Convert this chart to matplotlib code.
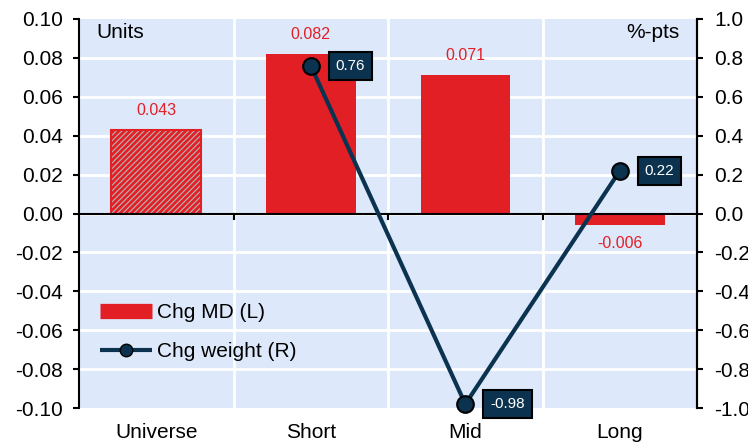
from matplotlib import pyplot as plt
from matplotlib.lines import Line2D
import numpy as np

plt.rcParams['font.family'] = ['Liberation Sans', 'DejaVu Sans']
plt.rcParams['hatch.linewidth'] = 2.0

categories = ["Universe", "Short", "Mid", "Long"]
chg_md = [0.043, 0.082, 0.071, -0.006]
chg_weight = [None, 0.76, -0.98, 0.22]
md_labels = ["0.043", "0.082", "0.071", "-0.006"]
weight_labels = [None, "0.76", "-0.98", "0.22"]

RED = "#e31f26"
NAVY = "#0b3350"
BG = "#dde9fb"

fig = plt.figure(figsize=(7.48, 4.47), dpi=100)
ax = fig.add_axes([0.1056, 0.0872, 0.8264, 0.8703])
ax.set_facecolor(BG)
x = np.arange(len(categories))

# bars on the left axis
bars = ax.bar(x, chg_md, width=0.58, color=RED, zorder=3)
bars[0].set_facecolor("#b4b4b4")
bars[0].set_edgecolor(RED)
bars[0].set_hatch("//////")
bars[0].set_linewidth(1.5)

for xi, v, lab in zip(x, chg_md, md_labels):
    off = 12 if v >= 0 else -11
    ax.annotate(lab, (xi, v), xytext=(0, off), textcoords="offset pixels",
                ha="center", va="bottom" if v >= 0 else "top",
                color=RED, fontsize=11.5, zorder=5)

yt = np.round(np.arange(-0.10, 0.101, 0.02), 2)
ax.set_xlim(-0.5, 3.5)
ax.set_ylim(-0.10, 0.10)
ax.set_yticks(yt)
ax.set_yticklabels([f"{abs(t):.2f}" if t == 0 else f"{t:.2f}" for t in yt])
ax.set_xticks(x)
ax.set_xticklabels(categories)
ax.tick_params(axis="x", length=0, labelsize=15, pad=11)
ax.tick_params(axis="y", length=4.5, width=1.5, labelsize=15, pad=7)

# white grid: category separators and y levels
for b in [0.5, 1.5, 2.5]:
    ax.axvline(b, color="white", lw=2, zorder=1)
for t in yt[1:-1]:
    ax.axhline(t, color="white", lw=2, zorder=1)
ax.axhline(0, color="black", lw=1.5, zorder=4)
for b in [0.5, 1.5, 2.5]:
    ax.plot([b, b], [0, -0.003], color="black", lw=1.5, zorder=4)

for s in ["top", "bottom"]:
    ax.spines[s].set_visible(False)
ax.spines["left"].set_linewidth(1.5)
ax.spines["right"].set_linewidth(1.5)

ax.text(0.028, 0.99, "Units", transform=ax.transAxes, ha="left", va="top",
        fontsize=15)
ax.text(0.972, 0.99, "%-pts", transform=ax.transAxes, ha="right", va="top",
        fontsize=15)

# weight line on the right axis
ax2 = ax.twinx()
wx = [xi for xi, w in zip(x, chg_weight) if w is not None]
wy = [w for w in chg_weight if w is not None]
ax2.plot(wx, wy, color=NAVY, lw=3, marker="o", markersize=12,
         markerfacecolor=NAVY, markeredgecolor="black", markeredgewidth=1.5,
         zorder=6, clip_on=False)
for xi, w, lab in zip(x, chg_weight, weight_labels):
    if w is None:
        continue
    ax2.annotate(lab, (xi, w), xytext=(25, 0), textcoords="offset pixels",
                 ha="left", va="center", color="white", fontsize=11,
                 bbox=dict(boxstyle="square,pad=0.45", fc=NAVY, ec="black",
                           lw=1.5), zorder=7, annotation_clip=False)
wt = np.round(np.arange(-1.0, 1.01, 0.2), 1)
ax2.set_ylim(-1.0, 1.0)
ax2.set_yticks(wt)
ax2.set_yticklabels([f"{abs(t):.1f}" if t == 0 else f"{t:.1f}" for t in wt])
ax2.tick_params(axis="y", length=4.5, width=1.5, labelsize=15, pad=8)
for s in ["top", "bottom", "left"]:
    ax2.spines[s].set_visible(False)
ax2.spines["right"].set_linewidth(1.5)

handles = [Line2D([], [], color=RED, lw=11, solid_capstyle="butt"),
           Line2D([], [], color=NAVY, lw=3, marker="o", markersize=9,
                  markerfacecolor=NAVY, markeredgecolor="black",
                  solid_capstyle="butt")]
ax2.legend(handles, ["Chg MD (L)", "Chg weight (R)"], loc="center left",
           bbox_to_anchor=(0.034, 0.195), frameon=False, fontsize=15,
           handlelength=2.5, handletextpad=0.25, labelspacing=0.95,
           borderpad=0, borderaxespad=0)

fig.savefig("out.png", dpi=100)
